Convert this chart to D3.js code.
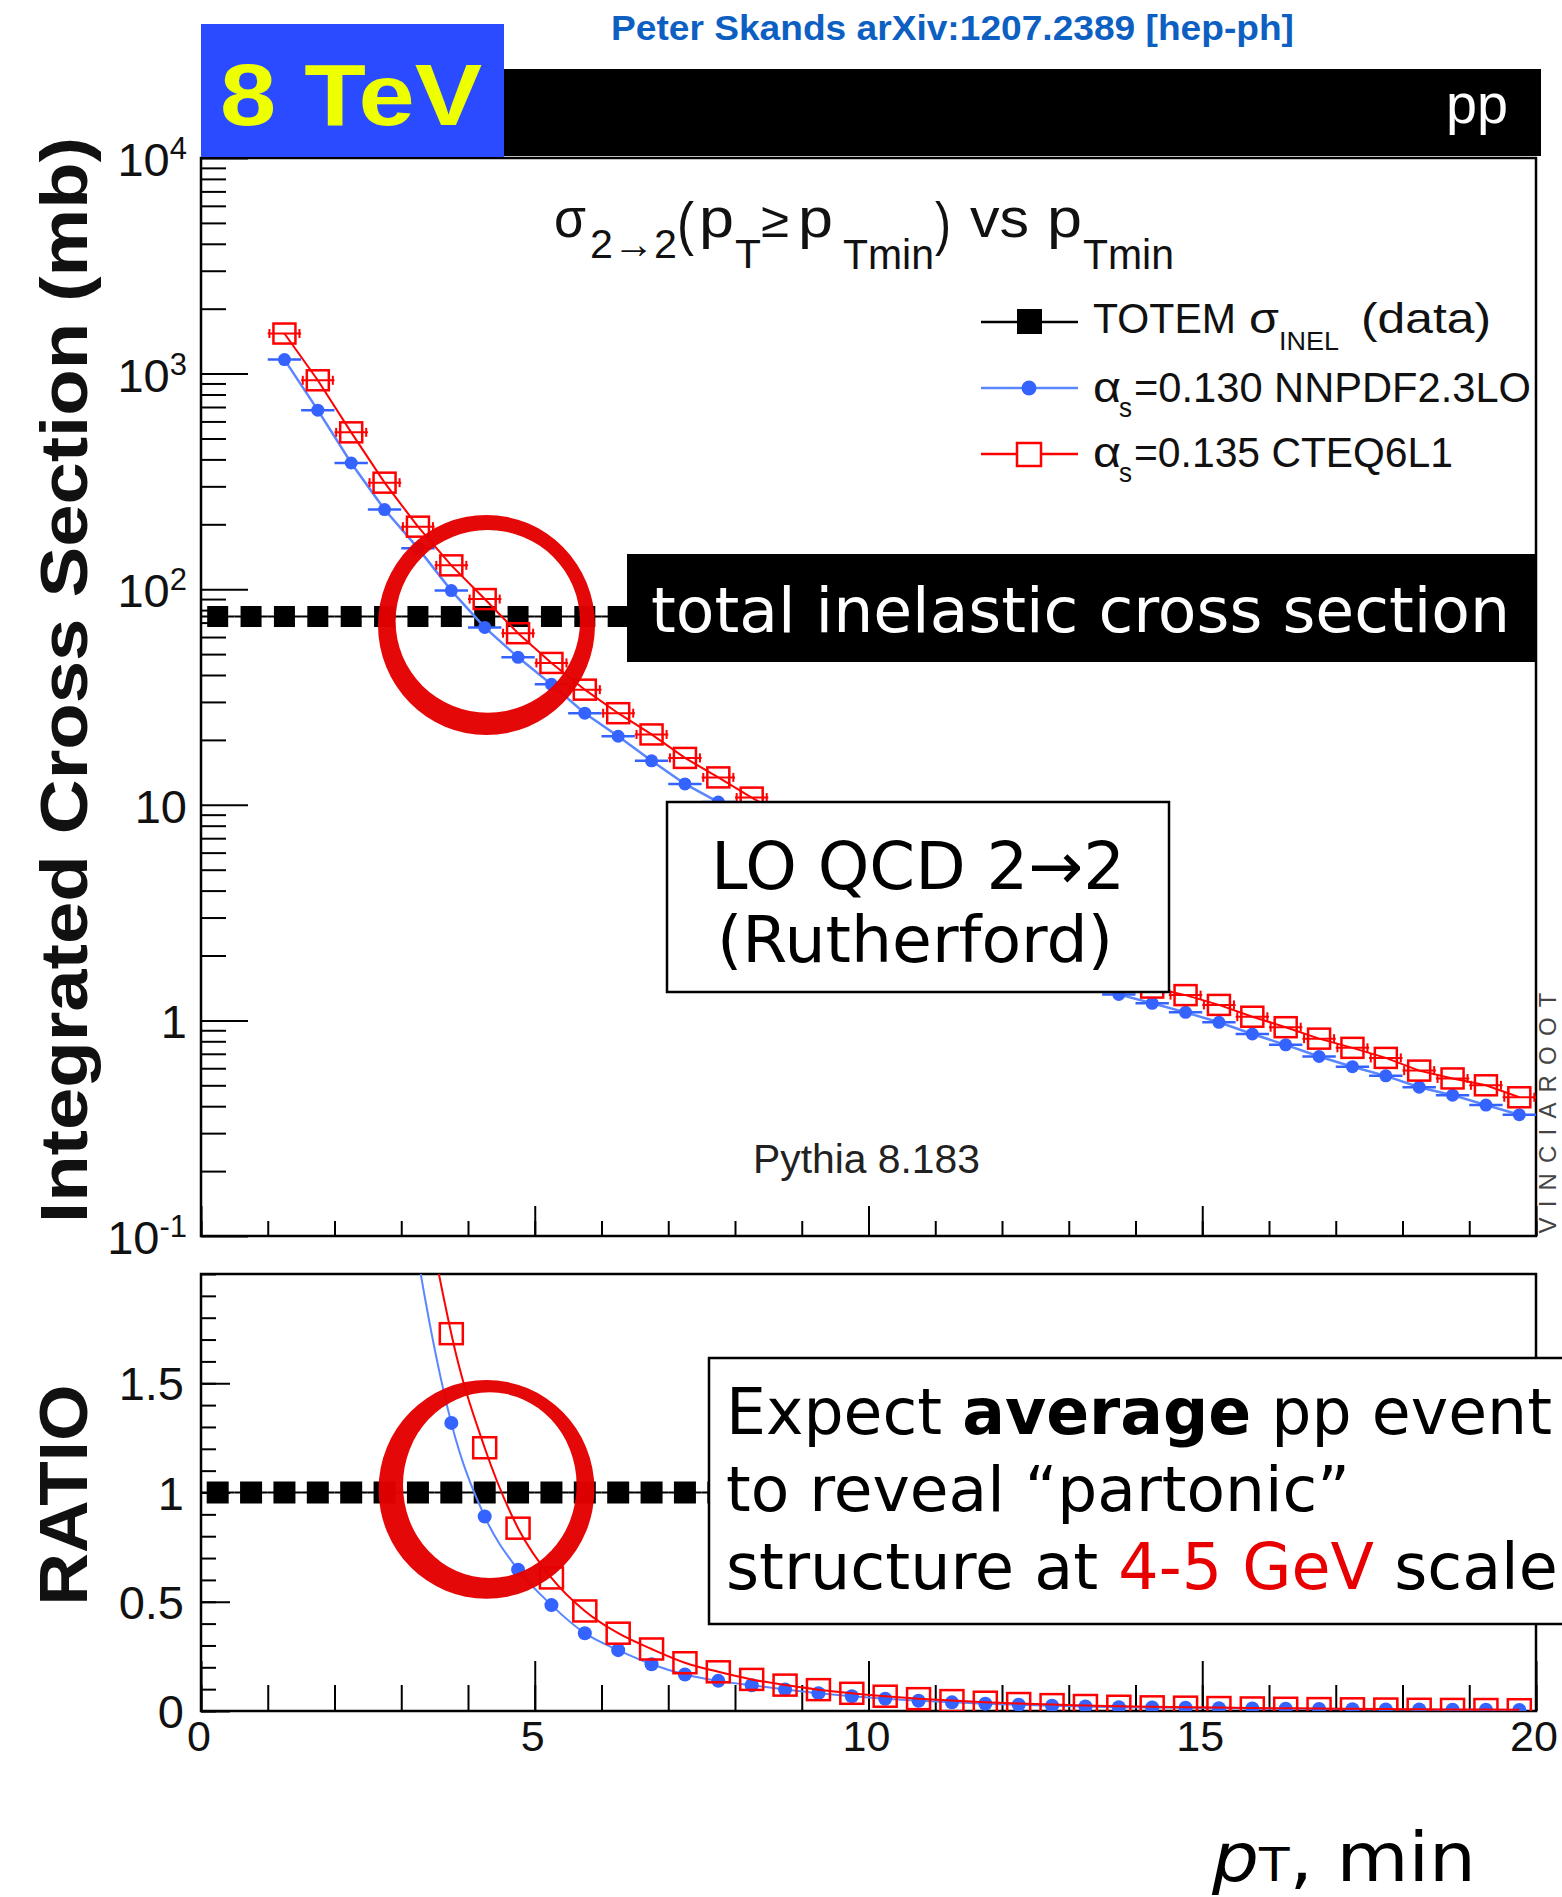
<!DOCTYPE html>
<html><head><meta charset="utf-8">
<script src="https://cdn.jsdelivr.net/npm/d3@7"></script>
<style>body{margin:0;background:#fff} svg{display:block}</style>
</head><body>
<svg id="c" width="1562" height="1897"></svg>
<script>
// ---------------- data ----------------
const pT = [1.25,1.75,2.25,2.75,3.25,3.75,4.25,4.75,5.25,5.75,6.25,6.75,7.25,7.75,8.25,8.75,9.25,9.75,10.25,10.75,11.25,11.75,12.25,12.75,13.25,13.75,14.25,14.75,15.25,15.75,16.25,16.75,17.25,17.75,18.25,18.75,19.25,19.75];
const sigmaNNPDF = [1161,677,385,234,155,98.5,66.5,48.3,36.2,26.6,20.8,16.0,12.5,10.3,8.8,7.35,6.1,5.05,4.2,3.5,2.95,2.5,2.12,1.8,1.53,1.32,1.2,1.09,0.98,0.865,0.77,0.68,0.61,0.553,0.49,0.45,0.405,0.365];
const sigmaCTEQ = [1534,931,534,312,195,129,90,62.5,45.5,34.2,26.6,21.2,16.5,13.4,10.8,8.85,7.3,6.05,5.05,4.22,3.55,3.0,2.55,2.18,1.88,1.62,1.42,1.31,1.18,1.04,0.93,0.823,0.746,0.67,0.585,0.538,0.5,0.44];
const totemPT = [0.25,0.75,1.25,1.75,2.25,2.75,3.25,3.75,4.25,4.75,5.25,5.75,6.25,6.75,7.25,7.75,8.25,8.75,9.25,9.75,10.25,10.75,11.25,11.75,12.25,12.75,13.25,13.75,14.25,14.75,15.25,15.75,16.25,16.75,17.25,17.75,18.25,18.75,19.25,19.75];
const sigmaInel = 74.7; // TOTEM (mb)
const binHalf = 0.25;

const yDecadeValues = [0.1,1,10,100,1000,10000];
const yDecadeBase = ["10","1","10","10","10","10"];
const yDecadeExp  = ["-1","","","2","3","4"];
const ratioTickValues = [0,0.5,1,1.5];
const ratioTickLabels = ["0","0.5","1","1.5"];
const xTickValues = [0,5,10,15,20];
const xTickLabels = ["0","5","10","15","20"];
const legendLabels = ["TOTEM", "α", "α"];

// ---------------- scales ----------------
const svg = d3.select("#c");
const x = d3.scaleLinear().domain([0,20]).range([201,1536]);
const yT = d3.scaleLog().domain([0.1,1e4]).range([1236,158]);
const yR = d3.scaleLinear().domain([0,2]).range([1711,1274]);

const BLUE = "#3563ff", BLUEL = "#5a86ff", RED = "#ff0000";
const HELV = "'Liberation Sans', Arial, Helvetica, sans-serif";
const DJV = "'DejaVu Sans', Verdana, sans-serif";

const defs = svg.append("defs");
defs.append("clipPath").attr("id","clipT").append("rect").attr("x",201).attr("y",158).attr("width",1335).attr("height",1078);
defs.append("clipPath").attr("id","clipR").append("rect").attr("x",201).attr("y",1274).attr("width",1335).attr("height",437);

function styleAxis(g){
  g.select(".domain").remove();
  g.selectAll(".tick line").attr("stroke","#000").attr("stroke-width",2);
  g.selectAll(".tick text").remove();
}

// ================= UPPER PANEL =================
const up = svg.append("g");
up.append("g").attr("transform","translate(0,1236)")
  .call(d3.axisBottom(x).tickValues(xTickValues).tickSize(-30).tickFormat("")).call(styleAxis);
up.append("g").attr("transform","translate(0,1236)")
  .call(d3.axisBottom(x).tickValues(x.ticks(20)).tickSize(-15).tickFormat("")).call(styleAxis);
up.append("g").attr("transform","translate(201,0)")
  .call(d3.axisLeft(yT).tickValues(yDecadeValues).tickSize(-47).tickFormat("")).call(styleAxis);
up.append("g").attr("transform","translate(201,0)")
  .call(d3.axisLeft(yT).tickValues(yT.ticks().filter(v => !yDecadeValues.some(d => Math.abs(d-v)/d < 1e-6))).tickSize(-25).tickFormat("")).call(styleAxis);
up.append("rect").attr("x",201).attr("y",158).attr("width",1335).attr("height",1078)
  .attr("fill","none").attr("stroke","#000").attr("stroke-width",2.5);

yDecadeValues.forEach((v,i) => {
  const t = up.append("text").attr("x",187).attr("y",yT(v)+18).attr("text-anchor","end")
    .attr("font-family",HELV).attr("font-size",47).attr("fill","#111").text(yDecadeBase[i]);
  if (yDecadeExp[i]) t.append("tspan").attr("font-size",31).attr("dy",-17).text(yDecadeExp[i]);
});

const gT = up.append("g").attr("clip-path","url(#clipT)");
gT.selectAll(".tb").data(totemPT).join("line")
  .attr("x1",d=>x(d-binHalf)).attr("x2",d=>x(d+binHalf))
  .attr("y1",yT(sigmaInel)).attr("y2",yT(sigmaInel)).attr("stroke","#000").attr("stroke-width",2);
gT.selectAll(".ts").data(totemPT).join("rect")
  .attr("x",d=>x(d)-10.5).attr("y",yT(sigmaInel)-10.5).attr("width",21).attr("height",21).attr("fill","#000");

const dataB = pT.map((p,i)=>({p, v:sigmaNNPDF[i]}));
const dataR = pT.map((p,i)=>({p, v:sigmaCTEQ[i]}));
const lineT = d3.line().x(d=>x(d.p)).y(d=>yT(d.v));
gT.append("path").datum(dataB).attr("d",lineT).attr("fill","none").attr("stroke",BLUEL).attr("stroke-width",2.5);
gT.selectAll(".bb").data(dataB).join("line")
  .attr("x1",d=>x(d.p-binHalf)).attr("x2",d=>x(d.p+binHalf)).attr("y1",d=>yT(d.v)).attr("y2",d=>yT(d.v))
  .attr("stroke",BLUE).attr("stroke-width",2.5);
gT.selectAll(".bm").data(dataB).join("circle")
  .attr("cx",d=>x(d.p)).attr("cy",d=>yT(d.v)).attr("r",6.5).attr("fill",BLUE);
gT.selectAll(".rb").data(dataR).join("line")
  .attr("x1",d=>x(d.p-binHalf)).attr("x2",d=>x(d.p+binHalf)).attr("y1",d=>yT(d.v)).attr("y2",d=>yT(d.v))
  .attr("stroke",RED).attr("stroke-width",2);
[-1,1].forEach(s => {
  gT.selectAll(".re"+(s>0?"p":"m")).data(dataR).join("line")
    .attr("x1",d=>x(d.p+s*0.225)).attr("x2",d=>x(d.p+s*0.225))
    .attr("y1",d=>yT(d.v)-4.5).attr("y2",d=>yT(d.v)+4.5).attr("stroke",RED).attr("stroke-width",2);
});
gT.selectAll(".rm").data(dataR).join("rect")
  .attr("x",d=>x(d.p)-11).attr("y",d=>yT(d.v)-10).attr("width",22).attr("height",20)
  .attr("fill","none").attr("stroke",RED).attr("stroke-width",2.5);
gT.append("path").datum(dataR).attr("d",lineT).attr("fill","none").attr("stroke",RED).attr("stroke-width",2);

// annotation boxes (upper)
svg.append("rect").attr("x",627).attr("y",554).attr("width",910).attr("height",108).attr("fill","#000");
svg.append("text").attr("x",651).attr("y",632).attr("font-family",DJV).attr("font-size",62)
  .attr("fill","#fff").attr("textLength",859).attr("lengthAdjust","spacingAndGlyphs").text("total inelastic cross section");
svg.append("rect").attr("x",667).attr("y",802).attr("width",502).attr("height",190)
  .attr("fill","#fff").attr("stroke","#000").attr("stroke-width",2.5);
svg.append("text").attr("x",711).attr("y",889).attr("font-family",DJV).attr("font-size",66).attr("fill","#000")
  .attr("textLength",414).attr("lengthAdjust","spacingAndGlyphs").text("LO QCD 2→2");
svg.append("text").attr("x",717).attr("y",962).attr("font-family",DJV).attr("font-size",64).attr("fill","#000")
  .attr("textLength",396).attr("lengthAdjust","spacingAndGlyphs").text("(Rutherford)");

// Pythia + VINCIAROOT
svg.append("text").attr("x",753).attr("y",1173).attr("font-family",HELV).attr("font-size",40).attr("fill","#222")
  .attr("textLength",227).attr("lengthAdjust","spacingAndGlyphs").text("Pythia 8.183");
svg.append("text").attr("transform","translate(1556,1113) rotate(-90)").attr("text-anchor","middle")
  .attr("font-family",HELV).attr("font-size",24).attr("fill","#444")
  .attr("textLength",241).attr("lengthAdjust","spacing").text("VINCIAROOT");

// legend
const lg = svg.append("g");
[322,388,454].forEach(yy => lg.append("line").attr("x1",981).attr("x2",1078).attr("y1",yy).attr("y2",yy)
  .attr("stroke", yy===322?"#000":(yy===388?BLUEL:RED)).attr("stroke-width",2.5));
lg.append("rect").attr("x",1017).attr("y",309).attr("width",25).attr("height",25).attr("fill","#000");
lg.append("circle").attr("cx",1029).attr("cy",388).attr("r",7.5).attr("fill",BLUE);
lg.append("rect").attr("x",1017).attr("y",443).attr("width",24).attr("height",23).attr("fill","#fff").attr("stroke",RED).attr("stroke-width",2.5);
function ltxt(xx,yy,s,fs,len){
  const t = lg.append("text").attr("x",xx).attr("y",yy).attr("font-family",HELV).attr("font-size",fs).attr("fill","#111").text(s);
  if(len) t.attr("textLength",len).attr("lengthAdjust","spacingAndGlyphs");
  return t;
}
ltxt(1093,333,legendLabels[0],42,143);
ltxt(1249,333,"σ",42,30);
ltxt(1279,350,"INEL",26,60);
ltxt(1361,333,"(data)",42,130);
ltxt(1093,402,legendLabels[1],42,28);
ltxt(1119,417,"s",28,13);
ltxt(1134,402,"=0.130 NNPDF2.3LO",42,397);
ltxt(1093,467,legendLabels[2],42,28);
ltxt(1119,482,"s",28,13);
ltxt(1134,467,"=0.135 CTEQ6L1",42,319);

// title
const tg = svg.append("g").attr("font-family",HELV).attr("fill","#111");
function tt(xx,yy,s,fs,len){
  const t = tg.append("text").attr("x",xx).attr("y",yy).attr("font-size",fs).text(s);
  if(len) t.attr("textLength",len).attr("lengthAdjust","spacingAndGlyphs");
}
tt(554,237,"σ",56,32);
tt(590,258,"2→2",40,87);
tt(677,244,"(",60,17);
tt(699,237,"p",56,35);
tt(735,268,"T",40,26);
tt(761,237,"≥",50,28);
tt(798,237,"p",56,35);
tt(843,269,"Tmin",42,91);
tt(935,244,")",60,16);
tt(970,237,"vs",56,59);
tt(1047,237,"p",56,35);
tt(1083,269,"Tmin",42,91);

// header boxes
svg.append("rect").attr("x",503).attr("y",69).attr("width",1038).attr("height",87).attr("fill","#000");
svg.append("rect").attr("x",201).attr("y",24).attr("width",303).attr("height",133).attr("fill","#2a4bff");
svg.append("text").attr("x",220).attr("y",125).attr("font-family",HELV).attr("font-weight","bold")
  .attr("font-size",87).attr("fill","#eeff00").attr("textLength",262).attr("lengthAdjust","spacingAndGlyphs").text("8 TeV");
svg.append("text").attr("x",1446).attr("y",123).attr("font-family",HELV).attr("font-size",56).attr("fill","#fff")
  .attr("textLength",62).attr("lengthAdjust","spacingAndGlyphs").text("pp");
svg.append("text").attr("x",611).attr("y",40).attr("font-family",HELV).attr("font-weight","bold")
  .attr("font-size",35).attr("fill","#0d5fc2").attr("textLength",683).attr("lengthAdjust","spacingAndGlyphs")
  .text("Peter Skands arXiv:1207.2389 [hep-ph]");

svg.append("text").attr("transform","translate(87,680) rotate(-90)").attr("text-anchor","middle")
  .attr("font-family",HELV).attr("font-weight","bold").attr("font-size",66).attr("fill","#111")
  .attr("textLength",1086).attr("lengthAdjust","spacingAndGlyphs").text("Integrated Cross Section (mb)");

// ================= RATIO PANEL =================
const lo = svg.append("g");
lo.append("g").attr("transform","translate(0,1711)")
  .call(d3.axisBottom(x).tickValues(xTickValues).tickSize(-50).tickFormat("")).call(styleAxis);
lo.append("g").attr("transform","translate(0,1711)")
  .call(d3.axisBottom(x).tickValues(x.ticks(20)).tickSize(-26).tickFormat("")).call(styleAxis);
lo.append("g").attr("transform","translate(201,0)")
  .call(d3.axisLeft(yR).tickValues(ratioTickValues).tickSize(-29).tickFormat("")).call(styleAxis);
lo.append("g").attr("transform","translate(201,0)")
  .call(d3.axisLeft(yR).tickValues(yR.ticks(20)).tickSize(-15).tickFormat("")).call(styleAxis);
lo.append("rect").attr("x",201).attr("y",1274).attr("width",1335).attr("height",437)
  .attr("fill","none").attr("stroke","#000").attr("stroke-width",2.5);
ratioTickValues.forEach((v,i) => lo.append("text").attr("x",184).attr("y",yR(v)+17).attr("text-anchor","end")
  .attr("font-family",HELV).attr("font-size",47).attr("fill","#111").text(ratioTickLabels[i]));
xTickValues.forEach((v,i) => lo.append("text").attr("x",x(v)-2).attr("y",1751).attr("text-anchor","middle")
  .attr("font-family",HELV).attr("font-size",43).attr("fill","#111").text(xTickLabels[i]));

const gR = lo.append("g").attr("clip-path","url(#clipR)");
gR.selectAll(".tb").data(totemPT).join("line")
  .attr("x1",d=>x(d-binHalf)).attr("x2",d=>x(d+binHalf)).attr("y1",yR(1)).attr("y2",yR(1))
  .attr("stroke","#000").attr("stroke-width",2);
gR.selectAll(".ts").data(totemPT).join("rect")
  .attr("x",d=>x(d)-11).attr("y",yR(1)-11).attr("width",22).attr("height",22).attr("fill","#000");
const lineR = d3.line().x(d=>x(d.p)).y(d=>yR(d.v/sigmaInel)).curve(d3.curveMonotoneX);
gR.append("path").datum(dataB).attr("d",lineR).attr("fill","none").attr("stroke",BLUEL).attr("stroke-width",2);
gR.selectAll(".bm").data(dataB).join("circle")
  .attr("cx",d=>x(d.p)).attr("cy",d=>yR(d.v/sigmaInel)).attr("r",7).attr("fill",BLUE);
gR.append("path").datum(dataR).attr("d",lineR).attr("fill","none").attr("stroke",RED).attr("stroke-width",2);
gR.selectAll(".rm").data(dataR).join("rect")
  .attr("x",d=>x(d.p)-11.5).attr("y",d=>yR(d.v/sigmaInel)-10.5).attr("width",23).attr("height",21)
  .attr("fill","none").attr("stroke",RED).attr("stroke-width",2.5);

// Expect box
svg.append("rect").attr("x",709).attr("y",1358).attr("width",900).attr("height",266)
  .attr("fill","#fff").attr("stroke","#000").attr("stroke-width",2.5);
const e1 = svg.append("text").attr("x",726).attr("y",1434).attr("font-family",DJV).attr("font-size",64).attr("fill","#000")
  .attr("textLength",826).attr("lengthAdjust","spacingAndGlyphs");
e1.append("tspan").text("Expect ");
e1.append("tspan").attr("font-weight","bold").text("average");
e1.append("tspan").text(" pp event");
svg.append("text").attr("x",726).attr("y",1511).attr("font-family",DJV).attr("font-size",63).attr("fill","#000")
  .text("to reveal “partonic”");
const e3 = svg.append("text").attr("x",726).attr("y",1589).attr("font-family",DJV).attr("font-size",63.5).attr("fill","#000");
e3.append("tspan").text("structure at ");
e3.append("tspan").attr("fill","#e80000").text("4-5 GeV");
e3.append("tspan").text(" scale");

svg.append("text").attr("transform","translate(87,1495) rotate(-90)").attr("text-anchor","middle")
  .attr("font-family",HELV).attr("font-weight","bold").attr("font-size",68).attr("fill","#111")
  .attr("textLength",221).attr("lengthAdjust","spacingAndGlyphs").text("RATIO");

const pl = svg.append("text").attr("x",1212).attr("y",1881).attr("font-family",DJV).attr("font-size",68).attr("fill","#000")
  .attr("textLength",264).attr("lengthAdjust","spacingAndGlyphs");
pl.append("tspan").attr("font-style","italic").text("p");
pl.append("tspan").attr("font-size",46).text("T");
pl.append("tspan").text(", min");

function ell(cx,cy,rx,ry){
  return `M${cx-rx},${cy}A${rx},${ry} 0 1,0 ${cx+rx},${cy}A${rx},${ry} 0 1,0 ${cx-rx},${cy}Z`;
}
svg.append("path").attr("d", ell(486.5,625,108.5,110) + ell(487.8,621.3,92.2,91.3))
  .attr("fill","#e30000").attr("fill-rule","evenodd").attr("opacity",0.97);
svg.append("path").attr("d", ell(486.5,1489.4,107.9,109.4) + ell(489.8,1485.2,86.8,92.8))
  .attr("fill","#e30000").attr("fill-rule","evenodd").attr("opacity",0.97);
</script>
</body></html>
